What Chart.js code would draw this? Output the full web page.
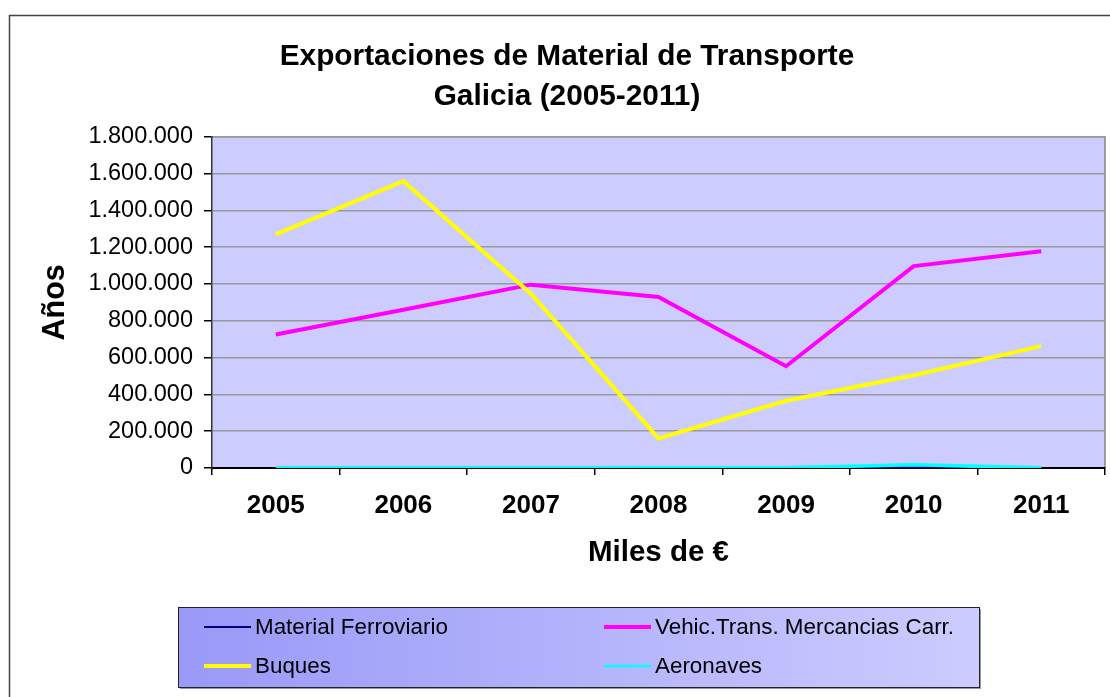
<!DOCTYPE html>
<html>
<head>
<meta charset="utf-8">
<script src="https://cdn.jsdelivr.net/npm/chart.js@4.4.0/dist/chart.umd.min.js"></script>
<style>
  html, body { margin: 0; padding: 0; background: #fff; }
  #wrap { width: 1110px; height: 697px; }
</style>
</head>
<body>
<div id="wrap"><canvas id="chart" width="1110" height="697"></canvas></div>
<script>
const years = ["2005", "2006", "2007", "2008", "2009", "2010", "2011"];
const ferroviario = [1000, 800, 1200, 900, 1500, 3500, 1500];
const vehiculos = [725000, 860000, 996000, 929000, 553000, 1097000, 1178000];
const buques = [1269000, 1558000, 947000, 161000, 365000, 504000, 662000];
const aeronaves = [500, 400, 600, 700, 1200, 17000, 800];
const seriesNames = ["Material Ferroviario", "Vehic.Trans. Mercancias Carr.", "Buques", "Aeronaves"];
const yTicks = { min: 0, max: 1800000, step: 200000 };

const FONT = "'Liberation Sans', Arial, sans-serif";

function fmt(v) {
  return String(v).replace(/\B(?=(\d{3})+(?!\d))/g, ".");
}

// plot background + outer frame
const background = {
  id: "background",
  beforeDraw(chart) {
    const { ctx, chartArea: a } = chart;
    ctx.save();
    ctx.strokeStyle = "#444";
    ctx.lineWidth = 1.5;
    ctx.strokeRect(9.5, 15.5, 1300, 900);
    ctx.fillStyle = "#ccccff";
    ctx.fillRect(a.left, a.top, a.right - a.left, a.bottom - a.top);
    ctx.strokeStyle = "#888";
    ctx.lineWidth = 1.5;
    ctx.beginPath();
    ctx.moveTo(a.left, a.top);
    ctx.lineTo(a.right, a.top);
    ctx.lineTo(a.right, a.bottom);
    ctx.stroke();
    ctx.restore();
  },
};

// two-column legend box at the bottom
const boxLegend = {
  id: "boxLegend",
  afterDraw(chart) {
    const ctx = chart.ctx;
    const x = 178, y = 607, w = 801, h = 80;
    ctx.save();
    ctx.fillStyle = "#999";
    ctx.fillRect(x + 2, y + 2, w, h);
    const g = ctx.createLinearGradient(x, 0, x + w, 0);
    g.addColorStop(0, "#9999f8");
    g.addColorStop(1, "#ccccff");
    ctx.fillStyle = g;
    ctx.fillRect(x, y, w, h);
    ctx.strokeStyle = "#222";
    ctx.lineWidth = 1;
    ctx.strokeRect(x + 0.5, y + 0.5, w, h);
    const cols = [204, 604], rows = [627, 666];
    chart.data.datasets.forEach((ds, i) => {
      const cx = cols[i % 2], cy = rows[Math.floor(i / 2)];
      ctx.strokeStyle = ds.borderColor;
      ctx.lineWidth = ds.legendWidth;
      ctx.beginPath();
      ctx.moveTo(cx, cy);
      ctx.lineTo(cx + 47, cy);
      ctx.stroke();
      ctx.fillStyle = "#000";
      ctx.font = "22.4px " + FONT;
      ctx.textBaseline = "middle";
      ctx.fillText(ds.label, cx + 51, cy + 1);
    });
    ctx.restore();
  },
};

function line(label, data, color, width, legendWidth, order) {
  return {
    label, data, borderColor: color, backgroundColor: color,
    borderWidth: width, legendWidth, order,
    pointRadius: 0, tension: 0, fill: false,
  };
}

new Chart(document.getElementById("chart"), {
  type: "line",
  data: {
    labels: years,
    datasets: [
      line(seriesNames[0], ferroviario, "#000080", 2, 2, 4),
      line(seriesNames[1], vehiculos, "#ff00ff", 4, 4, 3),
      line(seriesNames[2], buques, "#ffff00", 4, 4, 2),
      line(seriesNames[3], aeronaves, "#00ffff", 3.5, 2.5, 1),
    ],
  },
  options: {
    responsive: false,
    animation: false,
    layout: { padding: { left: 29, right: 5, top: 15, bottom: 109 } },
    plugins: {
      legend: { display: false },
      tooltip: { enabled: false },
      title: {
        display: true,
        text: ["Exportaciones de Material de Transporte", "Galicia (2005-2011)"],
        color: "#000",
        font: { family: FONT, size: 29.8, weight: "bold", lineHeight: 1.37 },
        padding: { top: 21, bottom: 19 },
      },
    },
    scales: {
      x: {
        offset: true,
        grid: { offset: true, drawOnChartArea: false, tickLength: 7, tickColor: "#000", lineWidth: 1.5 },
        border: { color: "#000", width: 2 },
        ticks: { color: "#000", padding: 15, font: { family: FONT, size: 26, weight: "bold" } },
        title: {
          display: true,
          text: "Miles de €",
          color: "#000",
          font: { family: FONT, size: 29.5, weight: "bold" },
          padding: { top: 0, bottom: 17 },
        },
        afterFit(s) { s.height = 120; },
      },
      y: {
        min: yTicks.min,
        max: yTicks.max,
        grid: { color: "#999", lineWidth: 1.5, tickLength: 8, tickColor: "#000" },
        border: { color: "#333", width: 1.5 },
        ticks: {
          stepSize: yTicks.step,
          color: "#000",
          padding: 11,
          font: { family: FONT, size: 23.5 },
          callback: (v) => fmt(v),
        },
        title: {
          display: true,
          text: "Años",
          color: "#000",
          font: { family: FONT, size: 30.5, weight: "bold" },
          padding: { top: 8, bottom: 0 },
        },
        afterFit(s) { s.width = 183; },
      },
    },
  },
  plugins: [background, boxLegend],
});
</script>
</body>
</html>
